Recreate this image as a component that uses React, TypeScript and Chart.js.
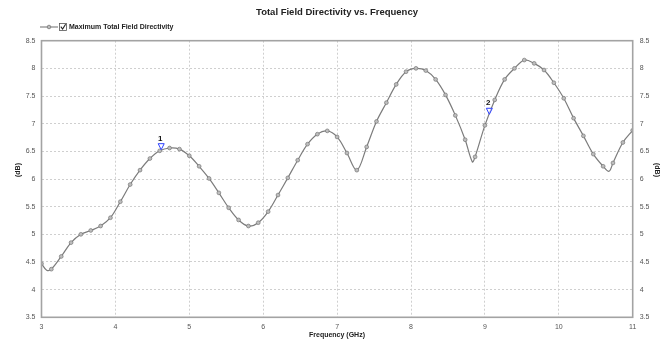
import React, { useEffect, useRef } from "react";
import { Chart, registerables } from "chart.js";

Chart.register(...registerables);

const TITLE = "Total Field Directivity vs. Frequency";
const SERIES_NAME = "Maximum Total Field Directivity";
const X_TITLE = "Frequency (GHz)";
const Y_TITLE = "(dB)";

// sampled points (with markers)
const freq = [
  3.0, 3.133, 3.267, 3.4, 3.533, 3.667, 3.8, 3.933, 4.067, 4.2, 4.333, 4.467, 4.6, 4.733, 4.867,
  5.0, 5.133, 5.267, 5.4, 5.533, 5.667, 5.8, 5.933, 6.067, 6.2, 6.333, 6.467, 6.6, 6.733, 6.867,
  7.0, 7.133, 7.267, 7.4, 7.533, 7.667, 7.8, 7.933, 8.067, 8.2, 8.333, 8.467, 8.6, 8.733, 8.867,
  9.0, 9.133, 9.267, 9.4, 9.533, 9.667, 9.8, 9.933, 10.067, 10.2, 10.333, 10.467, 10.6, 10.733, 10.867,
  11.0,
];
const directivity = [
  4.47, 4.37, 4.6, 4.85, 5.0, 5.07, 5.15, 5.3, 5.59, 5.9, 6.16, 6.37, 6.51, 6.56, 6.54,
  6.42, 6.23, 6.01, 5.75, 5.48, 5.26, 5.15, 5.21, 5.41, 5.71, 6.02, 6.34, 6.63, 6.81, 6.87,
  6.76, 6.47, 6.16, 6.58, 7.04, 7.38, 7.71, 7.94, 8.0, 7.96, 7.8, 7.52, 7.15, 6.71, 6.4,
  6.97, 7.43, 7.8, 8.0, 8.15, 8.09, 7.97, 7.74, 7.46, 7.1, 6.78, 6.45, 6.23, 6.29, 6.66,
  6.88,
];
// curve minima between samples (no marker)
const dipFreq = [3.07, 8.83, 10.68];
const dipValue = [4.35, 6.31, 6.14];

// numbered markers
const markerLabels = ["1", "2"];
const markerFreq = [4.62, 9.06];
const markerValue = [6.53, 7.17];

const xTicks = [3, 4, 5, 6, 7, 8, 9, 10, 11];
const yMin = 3.5;
const yMax = 8.5;
const yStep = 0.5;

const FONT = "'Liberation Sans', Arial, sans-serif";

export default function App() {
  const ref = useRef<HTMLCanvasElement | null>(null);

  useEffect(() => {
    document.body.style.margin = "0";
    const canvas = ref.current;
    if (!canvas) return;

    const pts: { x: number; y: number; m: boolean }[] = [];
    freq.forEach((f, i) => pts.push({ x: f, y: directivity[i], m: true }));
    dipFreq.forEach((f, i) => pts.push({ x: f, y: dipValue[i], m: false }));
    pts.sort((a, b) => a.x - b.x);

    const overlay = {
      id: "overlay",
      afterDraw(chart: any) {
        const { ctx, chartArea: a, scales } = chart;
        ctx.save();
        // frame
        ctx.strokeStyle = "#a3a3a3";
        ctx.lineWidth = 1.6;
        ctx.strokeRect(a.left, a.top, a.right - a.left, a.bottom - a.top);

        // title
        ctx.fillStyle = "#222";
        ctx.font = `bold 9.5px ${FONT}`;
        ctx.textAlign = "center";
        ctx.textBaseline = "middle";
        ctx.fillText(TITLE, 337, 12);

        // legend
        const ly = 27;
        ctx.strokeStyle = "#7a7a7a";
        ctx.lineWidth = 1.1;
        ctx.beginPath();
        ctx.moveTo(40, ly);
        ctx.lineTo(58, ly);
        ctx.stroke();
        ctx.fillStyle = "#bbb";
        ctx.strokeStyle = "#777";
        ctx.lineWidth = 0.8;
        ctx.beginPath();
        ctx.arc(49, ly, 1.8, 0, Math.PI * 2);
        ctx.fill();
        ctx.stroke();
        // checkbox
        ctx.fillStyle = "#fff";
        ctx.strokeStyle = "#555";
        ctx.lineWidth = 0.8;
        ctx.fillRect(59.5, ly - 3.5, 7, 7);
        ctx.strokeRect(59.5, ly - 3.5, 7, 7);
        ctx.strokeStyle = "#222";
        ctx.lineWidth = 1.1;
        ctx.beginPath();
        ctx.moveTo(60.8, ly - 0.3);
        ctx.lineTo(62.6, ly + 2);
        ctx.lineTo(65.6, ly - 2.8);
        ctx.stroke();
        ctx.fillStyle = "#222";
        ctx.font = `bold 7px ${FONT}`;
        ctx.textAlign = "left";
        ctx.fillText(SERIES_NAME, 69, ly);

        // axis titles
        ctx.textAlign = "center";
        ctx.fillText(X_TITLE, 337, 335);
        ctx.save();
        ctx.translate(18, 170);
        ctx.rotate(-Math.PI / 2);
        ctx.fillText(Y_TITLE, 0, 0);
        ctx.restore();
        ctx.save();
        ctx.translate(657, 170);
        ctx.rotate(Math.PI / 2);
        ctx.fillText(Y_TITLE, 0, 0);
        ctx.restore();

        // numbered markers
        const xs = scales.x;
        const ys = scales.y;
        markerFreq.forEach((f, i) => {
          const px = xs.getPixelForValue(f);
          const py = ys.getPixelForValue(markerValue[i]);
          ctx.strokeStyle = "#2b3fff";
          ctx.fillStyle = "rgba(255,255,255,0.6)";
          ctx.lineWidth = 1;
          ctx.beginPath();
          ctx.moveTo(px, py);
          ctx.lineTo(px - 3, py - 6);
          ctx.lineTo(px + 3, py - 6);
          ctx.closePath();
          ctx.fill();
          ctx.stroke();
          ctx.fillStyle = "#111";
          ctx.font = `bold 8px ${FONT}`;
          ctx.textAlign = "center";
          ctx.fillText(markerLabels[i], px - 1, py - 11);
        });
        ctx.restore();
      },
    };

    const tickFont = { family: FONT, size: 7 };
    const yTickCb = (v: any) => String(v);

    const chart = new Chart(canvas, {
      type: "line",
      data: {
        datasets: [
          {
            label: SERIES_NAME,
            data: pts.map((p) => ({ x: p.x, y: p.y })),
            borderColor: "#7c7c7c",
            borderWidth: 1.2,
            backgroundColor: "#bdbdbd",
            pointBorderColor: "#777",
            pointBorderWidth: 0.7,
            pointRadius: pts.map((p) => (p.m ? 1.9 : 0)),
            pointHoverRadius: 0,
            tension: 0.35,
            fill: false,
          },
        ],
      },
      plugins: [overlay],
      options: {
        animation: false,
        responsive: false,
        events: [],
        layout: { padding: { top: 40.7, left: 0, right: 0, bottom: 0 } },
        plugins: {
          legend: { display: false },
          title: { display: false },
          tooltip: { enabled: false },
        },
        scales: {
          x: {
            type: "linear",
            min: 3,
            max: 11,
            afterFit: (s: any) => {
              s.height = 25.7;
            },
            afterBuildTicks: (s: any) => {
              s.ticks = xTicks.map((v) => ({ value: v }));
            },
            ticks: { font: tickFont, color: "#555", padding: 6, maxRotation: 0, autoSkip: false },
            grid: { color: "#cfcfcf", lineWidth: 1, drawTicks: false },
            border: { display: false, dash: [2, 2] },
          },
          y: {
            type: "linear",
            position: "left",
            min: yMin,
            max: yMax,
            afterFit: (s: any) => {
              s.width = 41.5;
            },
            ticks: { stepSize: yStep, font: tickFont, color: "#555", padding: 6, callback: yTickCb },
            grid: { color: "#cfcfcf", lineWidth: 1, drawTicks: false },
            border: { display: false, dash: [2, 2] },
          },
          y2: {
            type: "linear",
            position: "right",
            min: yMin,
            max: yMax,
            afterFit: (s: any) => {
              s.width = 37.3;
            },
            ticks: { stepSize: yStep, font: tickFont, color: "#555", padding: 7, callback: yTickCb },
            grid: { display: false, drawTicks: false },
            border: { display: false },
          },
        },
      },
    });
    return () => chart.destroy();
  }, []);

  return (
    <div style={{ width: 670, height: 343, background: "#fff" }}>
      <canvas ref={ref} width={670} height={343} style={{ display: "block" }} />
    </div>
  );
}
